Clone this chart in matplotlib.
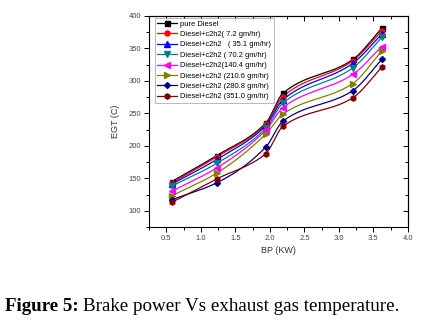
import numpy as np
import matplotlib
matplotlib.use("Agg")
import matplotlib.pyplot as plt
from matplotlib.ticker import MultipleLocator

# ---- data ----
bp = [0.58, 1.23, 1.94, 2.19, 3.20, 3.62]
labels = ["pure Diesel",
          "Diesel+c2h2( 7.2 gm/hr)",
          "Diesel+c2h2   ( 35.1 gm/hr)",
          "Diesel+c2h2 ( 70.2 gm/hr)",
          "Diesel+c2h2(140.4 gm/hr)",
          "Diesel+c2h2 (210.6 gm/hr)",
          "Diesel+c2h2 (280.8 gm/hr)",
          "Diesel+c2h2 (351.0 gm/hr)"]
egt_pure = [145, 185, 235, 281, 333, 381]
egt_7 = [143, 183, 233, 276, 331, 377]
egt_35 = [141, 179, 231, 271, 327, 372]
egt_70 = [138, 173, 227, 266, 320, 367]
egt_140 = [130, 166, 224, 259, 310, 353]
egt_210 = [123, 158, 218, 249, 296, 346]
egt_280 = [117, 143, 198, 238, 285, 333]
egt_351 = [113, 149, 188, 230, 274, 321]
series = [egt_pure, egt_7, egt_35, egt_70, egt_140, egt_210, egt_280, egt_351]

colors = ["#000000", "#ff0000", "#0000ff", "#008080", "#ff00ff",
          "#808000", "#000080", "#800000"]
markers = ["s", "o", "^", "v", "<", ">", "D", "h"]
msizes = [3.6, 3.6, 3.8, 3.8, 3.8, 3.8, 3.0, 3.8]


def pchip(x, y, xs):
    x = np.asarray(x, float); y = np.asarray(y, float)
    h = np.diff(x); dl = np.diff(y) / h
    n = len(x); m = np.zeros(n)
    for k in range(1, n - 1):
        if dl[k - 1] * dl[k] > 0:
            w1 = 2 * h[k] + h[k - 1]; w2 = h[k] + 2 * h[k - 1]
            m[k] = (w1 + w2) / (w1 / dl[k - 1] + w2 / dl[k])
    m[0] = dl[0]; m[-1] = dl[-1]
    idx = np.clip(np.searchsorted(x, xs) - 1, 0, n - 2)
    t = (xs - x[idx]) / h[idx]
    h00 = 2 * t**3 - 3 * t**2 + 1; h10 = t**3 - 2 * t**2 + t
    h01 = -2 * t**3 + 3 * t**2; h11 = t**3 - t**2
    return h00 * y[idx] + h10 * h[idx] * m[idx] + h01 * y[idx + 1] + h11 * h[idx] * m[idx + 1]


plt.rcParams['font.family'] = ['Liberation Sans', 'DejaVu Sans']

fig = plt.figure(figsize=(4.25, 3.34), dpi=100)
ax = fig.add_axes([149 / 425, 1 - 227 / 334, (408 - 149) / 425, (227 - 16) / 334])

xs = np.linspace(bp[0], bp[-1], 300)
for ys, col, mk, ms, lab in zip(series, colors, markers, msizes, labels):
    ax.plot(xs, pchip(bp, ys, xs), color=col, lw=0.9, zorder=2)
    ax.plot(bp, ys, linestyle="none", marker=mk, color=col, ms=ms, zorder=3)
    ax.plot([], [], color=col, lw=0.9, marker=mk, ms=ms, label=lab)

ax.set_xlim(0.25, 4.0)
ax.set_ylim(75, 400)
ax.xaxis.set_major_locator(MultipleLocator(0.5))
ax.xaxis.set_minor_locator(MultipleLocator(0.25))
ax.yaxis.set_major_locator(MultipleLocator(50))
ax.yaxis.set_minor_locator(MultipleLocator(25))
ax.xaxis.set_major_formatter(matplotlib.ticker.FormatStrFormatter('%.1f'))
ax.set_yticks([100, 150, 200, 250, 300, 350, 400])
ax.tick_params(which='both', direction='out', labelsize=5.5, labelcolor='#444444', width=0.7)
ax.tick_params(which='major', length=3.5, pad=2)
ax.tick_params(which='minor', length=2)
for s in ax.spines.values():
    s.set_linewidth(0.8)

sx = ax.secondary_xaxis('top')
sx.xaxis.set_major_locator(MultipleLocator(0.5))
sx.xaxis.set_minor_locator(MultipleLocator(0.25))
sx.tick_params(which='both', direction='in', labeltop=False, width=0.7)
sx.tick_params(which='major', length=3.5)
sx.tick_params(which='minor', length=2)
sy = ax.secondary_yaxis('right')
sy.yaxis.set_major_locator(MultipleLocator(50))
sy.yaxis.set_minor_locator(MultipleLocator(25))
sy.tick_params(which='both', direction='in', labelright=False, width=0.7)
sy.tick_params(which='major', length=3.5)
sy.tick_params(which='minor', length=2)

ax.set_xlabel("BP (KW)", fontsize=6.5, color='#333333', labelpad=3)
ax.set_ylabel("EGT (C)", fontsize=6.5, color='#333333', labelpad=6)

leg = ax.legend(loc='upper left', bbox_to_anchor=(0.023, 0.99), borderaxespad=0,
                fontsize=5.4, frameon=True, fancybox=False, edgecolor='#999999',
                handlelength=2.6, handletextpad=0.5, labelspacing=0.42,
                borderpad=0.3)
leg.get_frame().set_linewidth(0.6)

# caption
r = fig.canvas.get_renderer()
t1 = fig.text(5 / 425, 1 - 311 / 334, "Figure 5:", fontsize=13.7, fontweight='bold',
              family=['Liberation Serif', 'DejaVu Serif'], va='baseline', ha='left')
bb = t1.get_window_extent(renderer=r)
fig.text((bb.x1 + 4) / 425, 1 - 311 / 334, "Brake power Vs exhaust gas temperature.",
         fontsize=13.7, family=['Liberation Serif', 'DejaVu Serif'], va='baseline', ha='left')

fig.savefig("out.png", dpi=100)
